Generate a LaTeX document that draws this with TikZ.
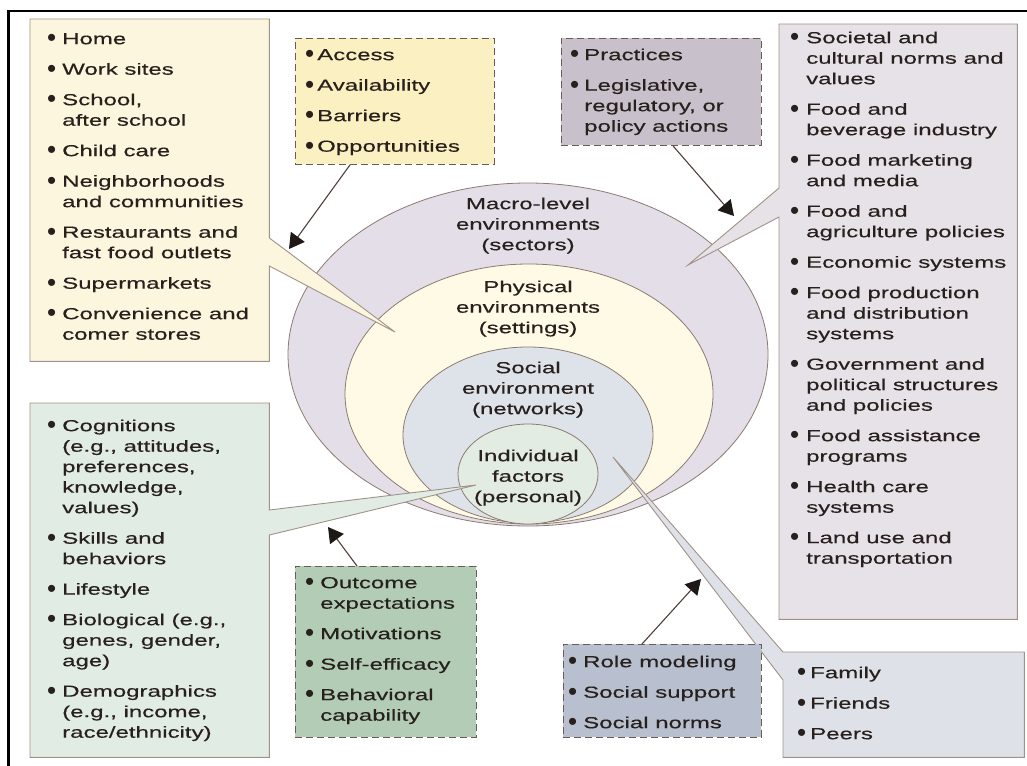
\documentclass[tikz,border=0pt]{standalone}
\usepackage{fontspec}
\setmainfont{Liberation Sans}[FakeStretch=1.5,FakeBold=0.4]
\newfontfamily\dotfont{Liberation Sans}
\usetikzlibrary{shapes.geometric,arrows.meta,calc}

\definecolor{ink}{RGB}{40,32,28}
\definecolor{edge}{RGB}{160,146,136}
\definecolor{dashedge}{RGB}{105,92,86}
\definecolor{arrowc}{RGB}{80,62,56}
\definecolor{tipc}{RGB}{30,24,22}
\definecolor{ellEdge}{RGB}{140,122,112}
\definecolor{settingsFill}{RGB}{252,246,222}
\definecolor{accessFill}{RGB}{251,240,194}
\definecolor{practFill}{RGB}{200,192,202}
\definecolor{sectorFill}{RGB}{231,225,232}
\definecolor{macroFill}{RGB}{228,222,232}
\definecolor{physFill}{RGB}{254,250,230}
\definecolor{socFill}{RGB}{222,227,234}
\definecolor{indFill}{RGB}{226,236,226}
\definecolor{personFill}{RGB}{225,236,228}
\definecolor{outcomeFill}{RGB}{178,204,182}
\definecolor{roleFill}{RGB}{184,192,208}
\definecolor{familyFill}{RGB}{222,226,232}

\newlength\bulw
\newcommand\bul{\makebox[\bulw][l]{\hspace*{-1pt}\raisebox{-2.4pt}{\fontsize{26}{20}\dotfont •}}}
\newcommand\cont{\hspace*{\bulw}}
\newcommand\fl{\rule{0pt}{12pt}}

\begin{document}
\begin{tikzpicture}[x=1pt,y=-1pt,
  ell/.style={ellipse,draw=ellEdge,line width=0.8pt,inner sep=0pt},
  frame/.style={inner sep=0pt,anchor=north west,draw=none},
  callout/.style={draw=edge,line width=0.9pt,line join=miter},
  dbox/.style={inner sep=0pt,anchor=north west,draw=dashedge,line width=0.9pt,dash pattern=on 7pt off 4pt},
  arr/.style={draw=arrowc,line width=1.1pt,-{Triangle[length=15pt,width=17pt,color=tipc]}},
  lst/.style={anchor=north west,inner sep=0pt,align=left,text=ink,font=\fontsize{16}{20.5}\selectfont},
  ctr/.style={anchor=north,inner sep=0pt,align=center,text=ink,font=\fontsize{16}{20.5}\selectfont},
  bw/.style={execute at begin node={\setlength{\bulw}{#1}}}
]
\useasboundingbox (0,0) rectangle (1027,765);

% page frame (top and left rules)
\draw[line width=2.6pt,line cap=rect] (8.5,765) -- (8.5,11) -- (1027,11);

% nested environment ellipses
\node[ell,fill=macroFill,minimum width=480pt,minimum height=343pt] (macro) at (528,354.5) {};
\node[ell,fill=physFill,minimum width=368pt,minimum height=260pt] (phys) at (529,394) {};
\node[ell,fill=socFill,minimum width=250pt,minimum height=176pt] (soc) at (528,435) {};
\node[ell,fill=indFill,minimum width=140pt,minimum height=100pt] (ind) at (528,474) {};

\node[ctr] (macroLbl) at (528,197) {\fl Macro-level\\environments\\(sectors)};
\node[ctr] (physLbl) at (528,280) {\fl Physical\\environments\\(settings)};
\node[ctr] (socLbl) at (528,361) {\fl Social\\environment\\(networks)};
\node[ctr] (indLbl) at (528,449) {\fl Individual\\factors\\(personal)};

% frames of the callout boxes
\node[frame,minimum width=239pt,minimum height=342pt] (settingsBox) at (30,19) {};
\node[frame,minimum width=238pt,minimum height=595pt] (sectorBox) at (779,24) {};
\node[frame,minimum width=239pt,minimum height=354pt] (personBox) at (30,403) {};
\node[frame,minimum width=241pt,minimum height=105pt] (familyBox) at (783,652) {};

\coordinate (settingsTip) at (395,332);
\coordinate (sectorTip) at (688,265);
\coordinate (personTip) at (476,485);
\coordinate (familyTip) at (613,457);

% callouts
\filldraw[callout,fill=settingsFill] (settingsBox.north west) -- (settingsBox.north east)
  -- ($(settingsBox.north east)+(0,219)$) -- (settingsTip) -- ($(settingsBox.north east)+(0,247)$)
  -- (settingsBox.south east) -- (settingsBox.south west) -- cycle;
\filldraw[callout,fill=sectorFill] (sectorBox.north west) -- ($(sectorBox.north west)+(0,164)$)
  -- (sectorTip) -- ($(sectorBox.north west)+(0,193)$) -- (sectorBox.south west)
  -- (sectorBox.south east) -- (sectorBox.north east) -- cycle;
\filldraw[callout,fill=personFill] (personBox.north west) -- (personBox.north east)
  -- ($(personBox.north east)+(0,107)$) -- (personTip) -- ($(personBox.north east)+(0,132)$)
  -- (personBox.south east) -- (personBox.south west) -- cycle;
\filldraw[callout,fill=familyFill] (familyBox.north west) -- (familyBox.north east)
  -- (familyBox.south east) -- (familyBox.south west) -- ($(familyBox.north west)+(0,28)$)
  -- (familyTip) -- cycle;

% dashed influence boxes
\node[dbox,fill=accessFill,minimum width=199pt,minimum height=126pt] (access) at (295,38) {};
\node[dbox,fill=practFill,minimum width=200pt,minimum height=107pt] (practices) at (561,38) {};
\node[dbox,fill=outcomeFill,minimum width=181pt,minimum height=171pt] (outcome) at (295,566) {};
\node[dbox,fill=roleFill,minimum width=198pt,minimum height=93pt] (role) at (563,644) {};

% arrows
\coordinate (accessTip) at (289,249);
\coordinate (practTip) at (734,216);
\coordinate (outcomeTip) at (328,527);
\coordinate (roleTip) at (701,579);
\draw[arr] ($(access.south west)+(55,0)$) -- (accessTip);
\draw[arr] ($(practices.south west)+(112,0)$) -- (practTip);
\draw[arr] ($(outcome.north west)+(62,0)$) -- (outcomeTip);
\draw[arr] ($(role.north west)+(79,0)$) -- (roleTip);

% lists
\node[lst,bw=14pt] (settingsList) at (48,32) {\fl\bul Home\\[10pt]
  \bul Work sites\\[10pt]
  \bul School,\\ \cont after school\\[10pt]
  \bul Child care\\[10pt]
  \bul Neighborhoods\\ \cont and communities\\[10pt]
  \bul Restaurants and\\ \cont fast food outlets\\[10pt]
  \bul Supermarkets\\[10pt]
  \bul Convenience and\\ \cont comer stores};

\node[lst,bw=11pt] (accessList) at (306,48) {\fl\bul Access\\[10pt]
  \bul Availability\\[10pt]
  \bul Barriers\\[10pt]
  \bul Opportunities};

\node[lst,bw=13pt] (practList) at (571,48) {\fl\bul Practices\\[10pt]
  \bul Legislative,\\ \cont regulatory, or\\ \cont policy actions};

\node[lst,bw=15pt] (sectorList) at (791,31) {\fl\bul Societal and\\ \cont cultural norms and\\ \cont values\\[10pt]
  \bul Food and\\ \cont beverage industry\\[10pt]
  \bul Food marketing\\ \cont and media\\[10pt]
  \bul Food and\\ \cont agriculture policies\\[10pt]
  \bul Economic systems\\[10pt]
  \bul Food production\\ \cont and distribution\\ \cont systems\\[10pt]
  \bul Government and\\ \cont political structures\\ \cont and policies\\[10pt]
  \bul Food assistance\\ \cont programs\\[10pt]
  \bul Health care\\ \cont systems\\[10pt]
  \bul Land use and\\ \cont transportation};

\node[lst,bw=14pt] (personList) at (48,419) {\fl\bul Cognitions\\ \cont (e.g., attitudes,\\ \cont preferences,\\ \cont knowledge,\\ \cont values)\\[10pt]
  \bul Skills and\\ \cont behaviors\\[10pt]
  \bul Lifestyle\\[10pt]
  \bul Biological (e.g.,\\ \cont genes, gender,\\ \cont age)\\[10pt]
  \bul Demographics\\ \cont (e.g., income,\\ \cont race/ethnicity)};

\node[lst,bw=14pt] (outcomeList) at (306,576) {\fl\bul Outcome\\ \cont expectations\\[10pt]
  \bul Motivations\\[10pt]
  \bul Self-efficacy\\[10pt]
  \bul Behavioral\\ \cont capability};

\node[lst,bw=14pt] (roleList) at (569,655) {\fl\bul Role modeling\\[10pt]
  \bul Social support\\[10pt]
  \bul Social norms};

\node[lst,bw=12pt] (familyList) at (798,666) {\fl\bul Family\\[10pt]
  \bul Friends\\[10pt]
  \bul Peers};
\end{tikzpicture}
\end{document}
